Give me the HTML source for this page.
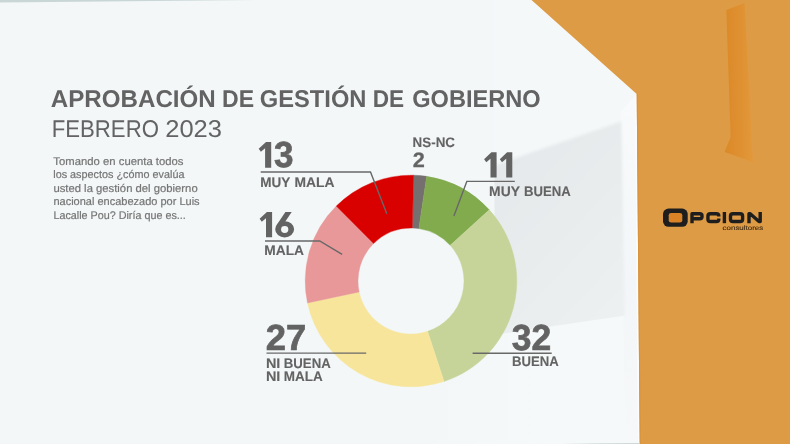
<!DOCTYPE html>
<html><head><meta charset="utf-8"><title>Aprobación de gestión de gobierno</title>
<style>
html,body{margin:0;padding:0;background:#f3f7f8;}
body{width:790px;height:444px;overflow:hidden;font-family:"Liberation Sans",sans-serif;}
svg{display:block;position:absolute;left:0;top:0;will-change:transform;}
text{font-family:"Liberation Sans",sans-serif;text-rendering:geometricPrecision;}
</style></head><body>
<svg width="790" height="444" viewBox="0 0 790 444">
<defs>
<linearGradient id="bgv" x1="0" y1="0" x2="0" y2="1">
<stop offset="0" stop-color="#f2f6f7"/><stop offset="1" stop-color="#f4f7f8"/>
</linearGradient>
<linearGradient id="niche" x1="0" y1="0" x2="1" y2="0">
<stop offset="0" stop-color="#db8929"/><stop offset="0.5" stop-color="#df9030"/><stop offset="1" stop-color="#e2983a"/>
</linearGradient>
<linearGradient id="shade" x1="494" y1="180" x2="620" y2="300" gradientUnits="userSpaceOnUse">
<stop offset="0" stop-color="#e5e9eb"/><stop offset="0.5" stop-color="#e8eced"/><stop offset="1" stop-color="#ecf0f1"/>
</linearGradient>
<linearGradient id="floor" x1="0" y1="0" x2="0" y2="1">
<stop offset="0" stop-color="#f6f8f9"/><stop offset="1" stop-color="#f5f8f9"/>
</linearGradient>
<linearGradient id="floorg" x1="430" y1="0" x2="540" y2="0" gradientUnits="userSpaceOnUse"><stop offset="0" stop-color="#f6f9f9" stop-opacity="0"/><stop offset="1" stop-color="#f6f9f9" stop-opacity="1"/></linearGradient>
<linearGradient id="wallg" x1="0" y1="94" x2="0" y2="444" gradientUnits="userSpaceOnUse"><stop offset="0" stop-color="#f8fafb"/><stop offset="0.55" stop-color="#f3f6f8"/><stop offset="1" stop-color="#f6f8f9"/></linearGradient>
<clipPath id="shc"><polygon points="494.5,100 630,100 630,314.8 494.5,334.7"/></clipPath>
<filter id="b3" x="-10%" y="-10%" width="120%" height="120%"><feGaussianBlur stdDeviation="1.5"/></filter>
<filter id="b1"><feGaussianBlur stdDeviation="0.8"/></filter>
<filter id="b2"><feGaussianBlur stdDeviation="0.5"/></filter>
<linearGradient id="botl" x1="560" y1="0" x2="640" y2="0" gradientUnits="userSpaceOnUse"><stop offset="0" stop-color="#d2dadd" stop-opacity="0"/><stop offset="0.5" stop-color="#d2dadd" stop-opacity="0.8"/><stop offset="1" stop-color="#cdd5d9"/></linearGradient>
</defs>
<rect width="790" height="444" fill="#f3f7f8"/>
<!-- top thin strip -->
<polygon points="0,0 260,0 0,2.6" fill="#c9d6d6"/>
<!-- recessed shading -->
<polygon points="494.5,0 532,0 637,94 620,120 494.5,163" fill="#f5f8f9"/>
<polygon points="430,344.2 494.5,334.7 623.3,315.8 626,444 430,444" fill="url(#floorg)"/>
<polygon points="620.5,112 636.7,94 639.7,444 625.5,444" fill="url(#wallg)"/>
<polygon points="635.0,95.6 636.7,94 639.7,444 638.0,444" fill="#fbfdfd"/>
<g clip-path="url(#shc)"><polygon points="480,170.5 621.2,121.8 625.3,345 480,365" fill="url(#shade)" filter="url(#b3)"/></g>
<!-- orange -->
<polygon points="531.5,0 790,0 790,444 639.7,444 636.7,94" fill="#de9b46"/>
<polygon points="636.7,94 637.9,94 640.9,444 639.7,444" fill="#d9933c"/>
<polygon points="726.3,10 744.6,3 752.9,162 724.6,152 730.6,137" fill="url(#niche)" filter="url(#b2)"/>
<rect x="560" y="443" width="80" height="1" fill="url(#botl)"/>
<!-- donut -->
<path d="M413.58,175.23 A105.8,105.8 0 0 1 426.69,176.37 L418.86,228.59 A53.0,53.0 0 0 0 412.29,228.02 Z" fill="#756f6f" stroke="#756f6f" stroke-width="0.4"/>
<path d="M426.69,176.37 A105.8,105.8 0 0 1 489.30,209.85 L450.22,245.36 A53.0,53.0 0 0 0 418.86,228.59 Z" fill="#82ab4e" stroke="#82ab4e" stroke-width="0.4"/>
<path d="M489.30,209.85 A105.8,105.8 0 0 1 444.05,381.50 L427.56,331.35 A53.0,53.0 0 0 0 450.22,245.36 Z" fill="#c6d49a" stroke="#c6d49a" stroke-width="0.4"/>
<path d="M444.05,381.50 A105.8,105.8 0 0 1 307.50,302.94 L359.15,291.99 A53.0,53.0 0 0 0 427.56,331.35 Z" fill="#f8e59c" stroke="#f8e59c" stroke-width="0.4"/>
<path d="M307.50,302.94 A105.8,105.8 0 0 1 336.27,206.11 L373.56,243.48 A53.0,53.0 0 0 0 359.15,291.99 Z" fill="#e89898" stroke="#e89898" stroke-width="0.4"/>
<path d="M336.27,206.11 A105.8,105.8 0 0 1 413.58,175.23 L412.29,228.02 A53.0,53.0 0 0 0 373.56,243.48 Z" fill="#d90000" stroke="#d90000" stroke-width="0.4"/>

<!-- leaders -->
<g fill="none" stroke="#686868" stroke-width="1.4">
<polyline points="260.7,171.95 370.5,171.95 386.8,213.8"/>
<polyline points="265.0,240.95 319.7,240.95 342.1,254.3"/>
<polyline points="266.5,353.15 366.2,353.15"/>
<polyline points="514.8,181.4 466.8,181.4 453.9,215.9"/>
<polyline points="472.6,353.2 551.7,353.2"/>
</g>
<text x="50.8" y="106.5" font-size="24.2" font-weight="bold" fill="#636363" text-anchor="start" textLength="164.93" lengthAdjust="spacingAndGlyphs">APROBACIÓN</text>
<text x="221.98" y="106.5" font-size="24.2" font-weight="bold" fill="#636363" text-anchor="start" textLength="32.06" lengthAdjust="spacingAndGlyphs">DE</text>
<text x="259.8" y="106.5" font-size="24.2" font-weight="bold" fill="#636363" text-anchor="start" textLength="106.62" lengthAdjust="spacingAndGlyphs">GESTIÓN</text>
<text x="372.72" y="106.5" font-size="24.2" font-weight="bold" fill="#636363" text-anchor="start" textLength="31.43" lengthAdjust="spacingAndGlyphs">DE</text>
<text x="412.2" y="106.5" font-size="24.2" font-weight="bold" fill="#636363" text-anchor="start" textLength="128.46" lengthAdjust="spacingAndGlyphs">GOBIERNO</text>
<text x="51.7" y="136.5" font-size="24.2" font-weight="normal" fill="#636363" text-anchor="start" textLength="107.24" lengthAdjust="spacingAndGlyphs">FEBRERO</text>
<text x="165.21" y="136.5" font-size="24.2" font-weight="normal" fill="#636363" text-anchor="start" textLength="56.82" lengthAdjust="spacingAndGlyphs">2023</text>
<text x="53.38" y="164.5" font-size="11.0" font-weight="normal" fill="#767676" text-anchor="start" textLength="130.08" lengthAdjust="spacingAndGlyphs" stroke="#767676" stroke-width="0.2">Tomando en cuenta todos</text>
<text x="53.25" y="178.1" font-size="11.0" font-weight="normal" fill="#767676" text-anchor="start" textLength="131.22" lengthAdjust="spacingAndGlyphs" stroke="#767676" stroke-width="0.2">los aspectos ¿cómo evalúa</text>
<text x="53.4" y="191.7" font-size="11.0" font-weight="normal" fill="#767676" text-anchor="start" textLength="144.28" lengthAdjust="spacingAndGlyphs" stroke="#767676" stroke-width="0.2">usted la gestión del gobierno</text>
<text x="53.4" y="205.4" font-size="11.0" font-weight="normal" fill="#767676" text-anchor="start" textLength="146.24" lengthAdjust="spacingAndGlyphs" stroke="#767676" stroke-width="0.2">nacional encabezado por Luis</text>
<text x="53.4" y="219.0" font-size="11.0" font-weight="normal" fill="#767676" text-anchor="start" textLength="132.39" lengthAdjust="spacingAndGlyphs" stroke="#767676" stroke-width="0.2">Lacalle Pou? Diría que es...</text>
<text x="273.94" y="167.45" font-size="36.3" font-weight="bold" fill="#636363" text-anchor="start" textLength="19.5" lengthAdjust="spacingAndGlyphs" stroke="#636363" stroke-width="0.7">3</text>
<text x="265.75" y="349.55" font-size="36.3" font-weight="bold" fill="#636363" text-anchor="start" textLength="40.45" lengthAdjust="spacingAndGlyphs" stroke="#636363" stroke-width="0.7">27</text>
<text x="511.82" y="349.6" font-size="36.3" font-weight="bold" fill="#636363" text-anchor="start" textLength="39.37" lengthAdjust="spacingAndGlyphs" stroke="#636363" stroke-width="0.7">32</text>
<text x="412.68" y="167.25" font-size="20.8" font-weight="bold" fill="#636363" text-anchor="start" textLength="12.07" lengthAdjust="spacingAndGlyphs" stroke="#636363" stroke-width="0.25">2</text>
<text x="260.3" y="186.6" font-size="13.7" font-weight="bold" fill="#636363" text-anchor="start" textLength="30.01" lengthAdjust="spacingAndGlyphs" stroke="#636363" stroke-width="0.1">MUY</text>
<text x="294.4" y="186.6" font-size="13.7" font-weight="bold" fill="#636363" text-anchor="start" textLength="40.0" lengthAdjust="spacingAndGlyphs" stroke="#636363" stroke-width="0.1">MALA</text>
<text x="264.25" y="255.45" font-size="13.7" font-weight="bold" fill="#636363" text-anchor="start" textLength="39.78" lengthAdjust="spacingAndGlyphs" stroke="#636363" stroke-width="0.1">MALA</text>
<text x="265.9" y="368.1" font-size="13.7" font-weight="bold" fill="#636363" text-anchor="start" textLength="14.45" lengthAdjust="spacingAndGlyphs" stroke="#636363" stroke-width="0.1">NI</text>
<text x="283.8" y="368.1" font-size="13.7" font-weight="bold" fill="#636363" text-anchor="start" textLength="46.95" lengthAdjust="spacingAndGlyphs" stroke="#636363" stroke-width="0.1">BUENA</text>
<text x="265.9" y="381.45" font-size="13.7" font-weight="bold" fill="#636363" text-anchor="start" textLength="14.45" lengthAdjust="spacingAndGlyphs" stroke="#636363" stroke-width="0.1">NI</text>
<text x="283.8" y="381.45" font-size="13.7" font-weight="bold" fill="#636363" text-anchor="start" textLength="38.91" lengthAdjust="spacingAndGlyphs" stroke="#636363" stroke-width="0.1">MALA</text>
<text x="412.6" y="146.55" font-size="13.7" font-weight="bold" fill="#636363" text-anchor="start" textLength="42.38" lengthAdjust="spacingAndGlyphs" stroke="#636363" stroke-width="0.1">NS-NC</text>
<text x="489.1" y="195.7" font-size="13.7" font-weight="bold" fill="#636363" text-anchor="start" textLength="30.8" lengthAdjust="spacingAndGlyphs" stroke="#636363" stroke-width="0.1">MUY</text>
<text x="523.9" y="195.7" font-size="13.7" font-weight="bold" fill="#636363" text-anchor="start" textLength="46.75" lengthAdjust="spacingAndGlyphs" stroke="#636363" stroke-width="0.1">BUENA</text>
<text x="512.1" y="366.05" font-size="13.7" font-weight="bold" fill="#636363" text-anchor="start" textLength="46.75" lengthAdjust="spacingAndGlyphs" stroke="#636363" stroke-width="0.1">BUENA</text>
<!-- ones -->
<path d="M271.2,141.9 H266.00 L258.70,148.80 L260.90,151.80 L265.10,148.30 V167.7 H271.2 Z" fill="#636363"/>
<path d="M272.1,211.9 H266.90 L259.60,218.80 L261.80,221.80 L266.00,218.30 V237.25 H272.1 Z" fill="#636363"/>
<path d="M496.6,152.35 H491.40 L484.10,159.25 L486.30,162.25 L490.50,158.75 V177.45 H496.6 Z" fill="#636363"/>
<path d="M512.3,152.35 H507.10 L499.80,159.25 L502.00,162.25 L506.20,158.75 V177.45 H512.3 Z" fill="#636363"/>
<path fill-rule="evenodd" fill="#636363" d="M275.2,229.3 A9.45,8.1 0 1 0 294.1,229.3 A9.45,8.1 0 1 0 275.2,229.3 Z M281.05,229.55 A3.65,3.45 0 1 1 288.35,229.55 A3.65,3.45 0 1 1 281.05,229.55 Z"/>
<polygon fill="#636363" points="285.4,211.9 291.7,211.9 285.0,221.9 284.65,226 276.47,225.25"/>
<!-- logo -->
<g id="logo">
<rect x="663.0" y="208.5" width="24.7" height="18.3" rx="5.6" ry="5.6" fill="#1f1e1e"/>
<rect x="668.7" y="212.9" width="13.6" height="9.7" rx="2.4" ry="2.4" fill="#d98326"/>
<g fill="none" stroke="#1f1e1e" stroke-width="3.4" stroke-linejoin="round">
<path d="M692.00,223.20 V213.70 H699.80 Q702.00,213.70 702.00,215.70 V216.80 Q702.00,218.80 699.80,218.80 H692.00"/>
<path d="M718.80,216.60 V216.00 Q718.80,213.70 716.40,213.70 H710.35 Q707.95,213.70 707.95,216.00 V219.20 Q707.95,221.50 710.35,221.50 H716.40 Q718.80,221.50 718.80,219.20 V218.60"/>
<path d="M724.4,212.0 V223.2"/>
<rect x="730.50" y="213.70" width="12.10" height="7.80" rx="2.4" ry="2.3"/>
<path d="M749.00,223.2 V213.70 H750.20 L759.00,221.50 H760.20 V212.0"/>
</g>
<text x="722.6" y="229.8" font-size="6.4" fill="#3f2a10" stroke="#3f2a10" stroke-width="0.1" textLength="40.6" lengthAdjust="spacingAndGlyphs">consultores</text>
</g>
</svg>
</body></html>
